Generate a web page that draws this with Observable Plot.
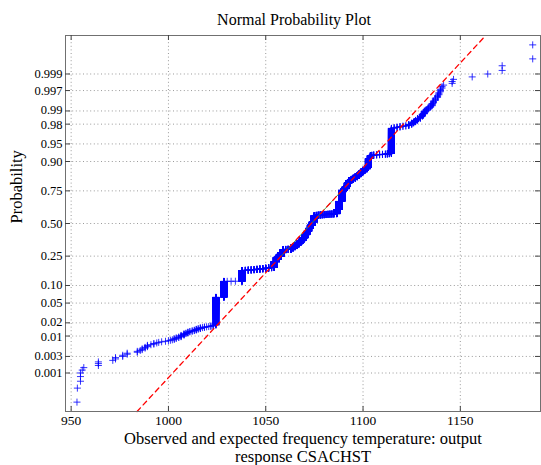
<!DOCTYPE html>
<html>
<head>
<meta charset="utf-8">
<script src="https://cdn.jsdelivr.net/npm/d3@7"></script>
<script src="https://cdn.jsdelivr.net/npm/@observablehq/plot@0.6"></script>
<style>
  body { margin: 0; background: #fff; }
  #chart svg { display: block; font-family: "Liberation Serif", "Times New Roman", serif; }
</style>
</head>
<body>
<div id="chart"></div>
<script>
// Observed temperatures (distinct values) and how many readings share each value.
const tempValues = [
  953.0, 953.2, 954.8, 955.7, 956.5, 964.0, 971.4, 972.8, 976.5, 978.8,
  984.0, 985.5, 986.5, 988.0, 989.2, 991.0, 992.5, 994.0, 995.0, 996.5,
  998.5, 1000.0, 1001.0, 1002.0, 1003.0, 1004.0, 1005.3, 1006.5, 1008.0, 1009.0,
  1010.0, 1011.0, 1012.2, 1013.3, 1014.3, 1015.3, 1016.4, 1017.5, 1018.5, 1019.6,
  1020.7, 1021.8, 1023.0, 1024.4, 1028.5, 1030.2, 1032.2, 1034.4, 1037.8, 1039.5,
  1041.0, 1042.5, 1044.0, 1045.5, 1047.0, 1048.5, 1050.0, 1051.5, 1053.0, 1054.3,
  1055.5, 1056.5, 1057.9, 1059.0, 1060.3, 1061.5, 1063.0, 1064.0, 1065.0, 1066.0,
  1067.0, 1068.0, 1069.0, 1070.0, 1071.0, 1072.0, 1073.0, 1074.0, 1075.0, 1076.0,
  1077.0, 1078.0, 1079.0, 1080.0, 1081.0, 1082.0, 1083.0, 1084.0, 1085.0, 1086.5,
  1087.7, 1089.0, 1090.3, 1091.2, 1092.0, 1092.8, 1094.0, 1095.0, 1096.0, 1097.0,
  1098.0, 1099.0, 1100.0, 1101.0, 1102.0, 1102.8, 1103.8, 1104.5, 1105.5, 1107.0,
  1108.5, 1110.0, 1111.5, 1112.5, 1113.5, 1114.6, 1116.0, 1117.5, 1119.0, 1120.5,
  1122.0, 1123.5, 1125.0, 1126.0, 1127.0, 1128.0, 1129.5, 1130.5, 1131.5, 1132.5,
  1133.5, 1134.7, 1135.5, 1136.2, 1137.2, 1138.3, 1139.0, 1139.8, 1140.6, 1141.4,
  1145.8, 1146.5, 1156.1, 1164.1, 1171.5, 1187.2
];
const tempCounts = [
  1, 1, 3, 1, 1, 3, 1, 2, 2, 2,
  2, 1, 2, 2, 3, 1, 2, 1, 1, 1,
  1, 1, 1, 1, 2, 2, 2, 4, 4, 2,
  3, 2, 2, 2, 3, 2, 3, 1, 2, 1,
  1, 2, 3, 206, 235, 1, 1, 1, 220, 6,
  6, 6, 6, 7, 8, 8, 10, 10, 12, 140,
  126, 30, 110, 97, 6, 6, 40, 40, 39, 55,
  60, 61, 90, 115, 120, 110, 120, 120, 234, 8,
  8, 8, 6, 6, 6, 6, 6, 6, 8, 150,
  280, 350, 45, 60, 100, 60, 30, 30, 30, 30,
  40, 40, 35, 25, 27, 153, 42, 4, 4, 3,
  3, 3, 3, 4, 4, 222, 3, 3, 3, 2,
  2, 6, 6, 5, 6, 7, 7, 7, 8, 4,
  4, 3, 5, 4, 4, 3, 3, 3, 2, 1,
  2, 1, 1, 1, 2, 2
];

// Probability axis ticks and their printed labels.
const probTicks = [0.001, 0.003, 0.01, 0.02, 0.05, 0.10, 0.25, 0.50, 0.75, 0.90, 0.95, 0.98, 0.99, 0.997, 0.999];
const probLabels = ["0.001", "0.003", "0.01", "0.02", "0.05", "0.10", "0.25", "0.50", "0.75", "0.90", "0.95", "0.98", "0.99", "0.997", "0.999"];
// Tightly spaced tick pairs whose labels are nudged apart a little.
const probRaised = [0.02, 0.99];
const probLowered = [0.01, 0.98];
const tempTicks = [950, 1000, 1050, 1100, 1150];

// Inverse of the standard normal CDF (Acklam's rational approximation).
function norminv(p) {
  const a = [-3.969683028665376e+01, 2.209460984245205e+02, -2.759285104469687e+02, 1.383577518672690e+02, -3.066479806614716e+01, 2.506628277459239e+00];
  const b = [-5.447609879822406e+01, 1.615858368580409e+02, -1.556989798598866e+02, 6.680131188771972e+01, -1.328068155288572e+01];
  const c = [-7.784894002430293e-03, -3.223964580411365e-01, -2.400758277161838e+00, -2.549671010283350e+00, 4.374664141464968e+00, 2.938163982698783e+00];
  const d = [7.784695709041462e-03, 3.224671290700398e-01, 2.445134137142996e+00, 3.754408661907416e+00];
  const plow = 0.02425, phigh = 1 - plow;
  if (p < plow) {
    const q = Math.sqrt(-2 * Math.log(p));
    return (((((c[0]*q+c[1])*q+c[2])*q+c[3])*q+c[4])*q+c[5]) / ((((d[0]*q+d[1])*q+d[2])*q+d[3])*q+1);
  }
  if (p > phigh) {
    const q = Math.sqrt(-2 * Math.log(1 - p));
    return -(((((c[0]*q+c[1])*q+c[2])*q+c[3])*q+c[4])*q+c[5]) / ((((d[0]*q+d[1])*q+d[2])*q+d[3])*q+1);
  }
  const q = p - 0.5, r = q * q;
  return (((((a[0]*r+a[1])*r+a[2])*r+a[3])*r+a[4])*r+a[5])*q / (((((b[0]*r+b[1])*r+b[2])*r+b[3])*r+b[4])*r+1);
}

// Expand to the sorted sample and attach normal plotting positions.
const sample = [];
tempValues.forEach((v, i) => { for (let k = 0; k < tempCounts[i]; k++) sample.push(v); });
sample.sort((a, b) => a - b);
const n = sample.length;
const points = sample.map((v, i) => ({ temp: v, z: norminv((i + 0.5) / n) }));

// Reference line through the first and third quartiles.
const q1 = d3.quantile(sample, 0.25), q3 = d3.quantile(sample, 0.75);
const z1 = norminv(0.25), z3 = norminv(0.75);
const sigma = (q3 - q1) / (z3 - z1);
const mu = (q1 + q3) / 2;

const zDomain = [-3.886, 3.886];
const xDomain = [947.1, 1191.2];
const zTicks = probTicks.map(norminv);
const labelOf = new Map(probTicks.map((p, i) => [p, probLabels[i]]));
const nudged = new Set([...probRaised, ...probLowered]);
const yLabel = (probs, dy) => Plot.axisY(probs.map(norminv), {
  tickSize: 0, tickPadding: 3, label: null, fontSize: 12.5, dy,
  tickFormat: z => labelOf.get(probs[probs.map(norminv).indexOf(z)])
});

const fitLine = zDomain.map(z => ({ temp: mu + sigma * z, z }));
const fitCore = [z1, z3].map(z => ({ temp: mu + sigma * z, z }));

const W = 541, H = 465;
const mL = 65, mR = 1, mT = 35, mB = 54;
const innerW = W - mL - mR, innerH = H - mT - mB;
const tick = 5;

const chart = Plot.plot({
  width: W,
  height: H,
  marginLeft: mL,
  marginRight: mR,
  marginTop: mT,
  marginBottom: mB,
  style: { fontFamily: "'Liberation Serif', 'Times New Roman', serif", fontSize: "13px", color: "#000", background: "#fff" },
  x: { domain: xDomain },
  y: { domain: zDomain },
  marks: [
    Plot.gridX(tempTicks, { stroke: "#9a9a9a", strokeOpacity: 1, strokeDasharray: "1,2.6" }),
    Plot.gridY(zTicks, { stroke: "#9a9a9a", strokeOpacity: 1, strokeDasharray: "1,2.6" }),
    Plot.dot(points, { x: "temp", y: "z", symbol: "plus", r: 2.4, stroke: "#0000ff", strokeWidth: 1, strokeOpacity: 0.8 }),
    Plot.line(fitCore, { x: "temp", y: "z", stroke: "#2e9a3c", strokeWidth: 0.9 }),
    Plot.line(fitLine, { x: "temp", y: "z", stroke: "#ff0000", strokeWidth: 1.3, strokeDasharray: "5,4" }),
    Plot.frame({ stroke: "#707070" }),
    // inward tick marks on all four sides
    Plot.tickX(tempTicks, { x: d => d, insetTop: innerH - tick, stroke: "#404040" }),
    Plot.tickX(tempTicks, { x: d => d, insetBottom: innerH - tick, stroke: "#404040" }),
    Plot.tickY(zTicks, { y: d => d, insetRight: innerW - tick, stroke: "#404040" }),
    Plot.tickY(zTicks, { y: d => d, insetLeft: innerW - tick, stroke: "#404040" }),
    Plot.axisX(tempTicks, { tickSize: 0, tickPadding: 4, label: null, fontSize: 13.5, tickFormat: d => String(d) }),
    yLabel(probTicks.filter(p => !nudged.has(p)), 0),
    yLabel(probRaised, -1.2),
    yLabel(probLowered, 1.2),
    Plot.text(["Normal Probability Plot"], { frameAnchor: "top", lineAnchor: "bottom", dy: -11, dx: -9, fontSize: 16 }),
    Plot.text(["Probability"], { frameAnchor: "left", rotate: -90, dx: -48.5, fontSize: 16.5 }),
    Plot.text(["Observed and expected frequency temperature: output\nresponse CSACHST"], {
      frameAnchor: "bottom", lineAnchor: "top", dy: 20, fontSize: 16.5, lineHeight: 1.09
    })
  ]
});

document.getElementById("chart").appendChild(chart);
</script>
</body>
</html>
